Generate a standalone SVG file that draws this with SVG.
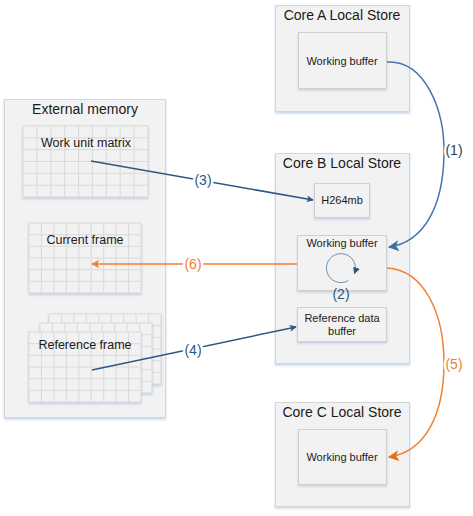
<svg xmlns="http://www.w3.org/2000/svg" xmlns:xlink="http://www.w3.org/1999/xlink" width="473" height="516" viewBox="0 0 473 516">
<style>
  text { font-family: "Liberation Sans", Arial, sans-serif; fill: #1a1a1a; text-anchor: middle; }
  .title { font-size: 14px; }
  .inner { font-size: 11px; }
  .gridlbl { font-size: 12.5px; }
  .box { fill: #f2f2f2; stroke: #d6d6d6; stroke-width: 1; filter: url(#sh); }
  .ibox { fill: #f2f2f2; stroke: #d0d0d0; stroke-width: 1; filter: url(#sh); }
  .gl { fill: none; stroke: #d9d9d9; stroke-width: 1; }
  .blue { fill: none; stroke: #2f5683; stroke-width: 1.5; }
  .lblue { fill: none; stroke: #4375ad; stroke-width: 1.5; }
  .orange { fill: none; stroke: #f0802f; stroke-width: 1.5; }
  .lbl { font-size: 14px; paint-order: stroke; stroke: #ffffff; stroke-width: 5px; stroke-linejoin: round; }
  .lb { fill: #2f5683; }
  .lo { fill: #f0802f; }
</style>
<defs>
  <filter id="sh" x="-10%" y="-10%" width="120%" height="130%">
    <feDropShadow dx="0" dy="1.5" stdDeviation="1" flood-color="#9fb9d8" flood-opacity="0.6"/>
  </filter>
  <marker id="ab" viewBox="0 0 10 10" refX="9" refY="5" markerWidth="7" markerHeight="7" orient="auto" markerUnits="userSpaceOnUse">
    <path d="M0,0 L10,5 L0,10 L2.5,5 z" fill="#2f5683"/>
  </marker>
  <marker id="alb" viewBox="0 0 10 10" refX="9" refY="5" markerWidth="11" markerHeight="11" orient="auto" markerUnits="userSpaceOnUse">
    <path d="M0,0 L10,5 L0,10 L2.5,5 z" fill="#3d6fa6"/>
  </marker>
  <marker id="ao" viewBox="0 0 10 10" refX="9" refY="5" markerWidth="8" markerHeight="8" orient="auto" markerUnits="userSpaceOnUse">
    <path d="M0,0 L10,5 L0,10 L2.5,5 z" fill="#f0802f"/>
  </marker>
  <marker id="ao2" viewBox="0 0 10 10" refX="9" refY="5" markerWidth="11" markerHeight="11" orient="auto" markerUnits="userSpaceOnUse">
    <path d="M0,0 L10,5 L0,10 L2.5,5 z" fill="#e86f1c"/>
  </marker>
  <marker id="ac" viewBox="0 0 10 10" refX="8" refY="5" markerWidth="7" markerHeight="7" orient="auto" markerUnits="userSpaceOnUse">
    <path d="M0,0 L10,5 L0,10 z" fill="#2f5683"/>
  </marker>
  <g id="fgrid">
    <rect x="0" y="0" width="112" height="70" fill="#f2f2f2" stroke="#d9d9d9" filter="url(#sh)"/>
    <path class="gl" d="M12.4,0V70M24.9,0V70M37.3,0V70M49.8,0V70M62.2,0V70M74.7,0V70M87.1,0V70M99.6,0V70M0,11.7H112M0,23.3H112M0,35H112M0,46.7H112M0,58.3H112"/>
  </g>
</defs>
<rect width="473" height="516" fill="#ffffff"/>

<g id="external-memory">
  <rect class="box" x="4.5" y="99.5" width="161" height="318"/>
  <text class="title" x="85" y="114">External memory</text>
</g>

<g id="work-unit-matrix">
  <rect x="23" y="126" width="125" height="71" fill="#f2f2f2" stroke="#d9d9d9" filter="url(#sh)"/>
  <path class="gl" d="M36.9,126V197M50.8,126V197M64.7,126V197M78.6,126V197M92.4,126V197M106.3,126V197M120.2,126V197M134.1,126V197M23,137.8H148M23,149.7H148M23,161.5H148M23,173.3H148M23,185.2H148"/>
  <text class="gridlbl" x="86" y="147">Work unit matrix</text>
</g>

<g id="current-frame">
  <use xlink:href="#fgrid" x="29" y="223"/>
  <text class="gridlbl" x="85" y="244">Current frame</text>
</g>

<g id="reference-frame">
  <use xlink:href="#fgrid" x="49" y="314"/>
  <use xlink:href="#fgrid" x="40" y="323"/>
  <use xlink:href="#fgrid" x="29" y="332"/>
  <text class="gridlbl" x="85" y="349">Reference frame</text>
</g>

<g id="core-a">
  <rect class="box" x="275.5" y="5.5" width="134" height="106"/>
  <text class="title" x="342" y="20">Core A Local Store</text>
</g>
<g id="core-a-working-buffer">
  <rect class="ibox" x="298.5" y="32.5" width="88" height="56"/>
  <text class="inner" x="342" y="65">Working buffer</text>
</g>

<g id="core-b">
  <rect class="box" x="275.5" y="153.5" width="134" height="210"/>
  <text class="title" x="342" y="168">Core B Local Store</text>
</g>
<g id="h264mb">
  <rect class="ibox" x="314.5" y="183.5" width="55" height="34"/>
  <text class="inner" x="342" y="204">H264mb</text>
</g>
<g id="core-b-working-buffer">
  <rect class="ibox" x="297.5" y="235.5" width="89" height="55"/>
  <text class="inner" x="342" y="247">Working buffer</text>
  <path d="M348.3,280.6 A14.5,14.5 0 1 1 354.6,273" fill="none" stroke="#6d8fb3" stroke-width="1" marker-end="url(#ac)"/>
</g>
<g id="reference-data-buffer">
  <rect class="ibox" x="297.5" y="307.5" width="89" height="34"/>
  <text class="inner" x="342" y="322">Reference data</text>
  <text class="inner" x="342" y="335">buffer</text>
</g>

<g id="core-c">
  <rect class="box" x="275.5" y="402.5" width="134" height="104"/>
  <text class="title" x="342" y="417">Core C Local Store</text>
</g>
<g id="core-c-working-buffer">
  <rect class="ibox" x="298.5" y="429.5" width="88" height="55"/>
  <text class="inner" x="342" y="461">Working buffer</text>
</g>

<g id="connectors">
  <path class="lblue" d="M387,62 C425,60 445,110 444,155 C443,205 425,242 389,247" marker-end="url(#alb)"/>
  <path class="orange" d="M387,268 C425,270 444,315 444,363 C444,415 425,452 389,457" marker-end="url(#ao2)"/>
  <path class="blue" d="M91,161 L313,200" marker-end="url(#ab)"/>
  <path class="blue" d="M92,370 L296,327" marker-end="url(#ab)"/>
  <path class="orange" d="M297,264 L92,264" marker-end="url(#ao)"/>
  <text class="lbl lb" x="203" y="185">(3)</text>
  <text class="lbl lb" x="193" y="355">(4)</text>
  <text class="lbl lo" x="193" y="269">(6)</text>
  <text class="lbl" x="454" y="155" style="fill:#2a3f55">(1)</text>
  <text class="lbl lo" x="454" y="369">(5)</text>
  <text class="lb" x="341" y="299" style="font-size:14px">(2)</text>
</g>
</svg>
